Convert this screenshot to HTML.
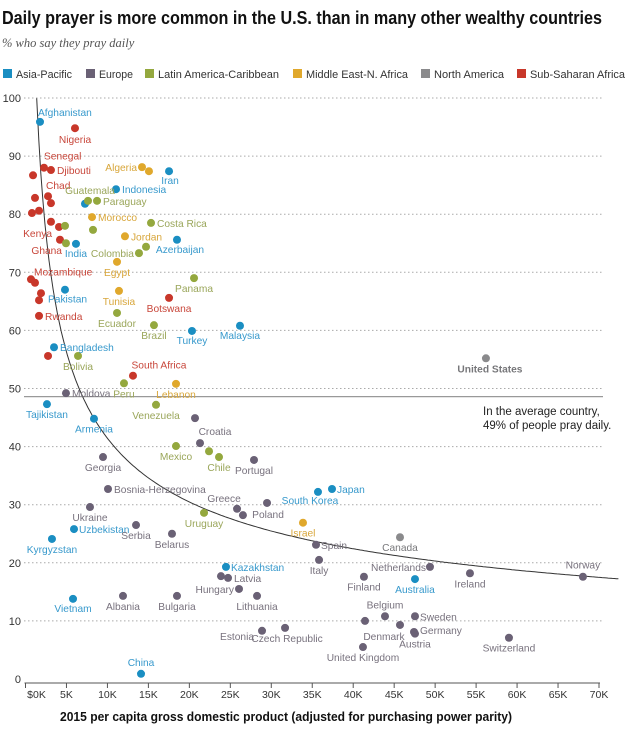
<!DOCTYPE html>
<html><head><meta charset="utf-8"><style>
html,body{margin:0;padding:0;background:#fff;}
svg{display:block;font-family:"Liberation Sans",sans-serif;}
</style></head><body>
<svg id="chart" width="640" height="731" viewBox="0 0 640 731" xmlns="http://www.w3.org/2000/svg">
<text x="2" y="24" font-size="18.5" font-weight="bold" fill="#111" textLength="600" lengthAdjust="spacingAndGlyphs">Daily prayer is more common in the U.S. than in many other wealthy countries</text>
<text x="2" y="47" font-size="12.5" font-style="italic" font-family="Liberation Serif, serif" fill="#555">% who say they pray daily</text>
<g id="legend"></g>
<g id="grid"></g>
<g id="plot"></g>
<text x="483" y="415" font-size="11.5" fill="#222">In the average country,</text>
<text x="483" y="429" font-size="11.5" fill="#222">49% of people pray daily.</text>
<text x="286" y="721" font-size="13" font-weight="bold" fill="#111" text-anchor="middle" textLength="452" lengthAdjust="spacingAndGlyphs">2015 per capita gross domestic product (adjusted for purchasing power parity)</text>
</svg>
<script>
const regions = ["A","E","L","M","N","S"];
const regionNames = ["Asia-Pacific","Europe","Latin America-Caribbean","Middle East-N. Africa","North America","Sub-Saharan Africa"];
const yTicks = [0,10,20,30,40,50,60,70,80,90,100];
const xTicks = [0,5,10,15,20,25,30,35,40,45,50,55,60,65,70];
const xTickLabels = ["$0K","5K","10K","15K","20K","25K","30K","35K","40K","45K","50K","55K","60K","65K","70K"];
const averageValue = 48.6;
const countryNames = ["Afghanistan","Iran","Indonesia","","India","Azerbaijan","Pakistan","Malaysia","Turkey","Bangladesh","Tajikistan","Armenia","South Korea","Japan","Uzbekistan","Kyrgyzstan","Kazakhstan","Australia","Vietnam","China",
"Nigeria","Senegal","Djibouti","","","Chad","","","","","Kenya","Ghana","Mozambique","","","","Rwanda","","South Africa","Botswana",
"Guatemala","Paraguay","","","","Costa Rica","Colombia","","Panama","Ecuador","Brazil","Bolivia","Peru","Venezuela","Mexico","","Chile","Uruguay",
"Algeria","","Morocco","Jordan","Egypt","Tunisia","Lebanon","Israel",
"Moldova","Georgia","","Croatia","Portugal","Bosnia-Herzegovina","Greece","","Poland","Ukraine","Serbia","Belarus","","Latvia","Hungary","Albania","Bulgaria","Lithuania","Estonia","Czech Republic","Spain","Italy","Finland","Netherlands","Ireland","Norway","Belgium","","Denmark","Sweden","Germany","Austria","United Kingdom","Switzerland",
"United States","Canada"];
const countryRegions = ["A","A","A","A","A","A","A","A","A","A","A","A","A","A","A","A","A","A","A","A",
"S","S","S","S","S","S","S","S","S","S","S","S","S","S","S","S","S","S","S","S",
"L","L","L","L","L","L","L","L","L","L","L","L","L","L","L","L","L","L",
"M","M","M","M","M","M","M","M",
"E","E","E","E","E","E","E","E","E","E","E","E","E","E","E","E","E","E","E","E","E","E","E","E","E","E","E","E","E","E","E","E","E","E",
"N","N"];
const gdpK = [1.77,17.52,11.05,7.26,6.16,18.49,4.82,26.18,20.32,3.48,2.62,8.36,35.7,37.41,5.92,3.23,24.47,47.54,5.8,14.1,
6.04,2.26,3.11,0.92,1.16,2.75,3.11,0.79,1.65,3.11,4.09,4.21,0.67,1.16,1.89,1.65,1.65,2.75,13.12,17.52,
7.63,8.73,4.82,4.94,8.24,15.32,13.85,14.71,20.57,11.17,15.68,6.41,12.02,15.93,18.37,22.4,23.62,21.79,
14.22,15.07,8.12,12.14,11.17,11.41,18.37,33.87,
4.94,9.46,20.69,21.3,27.89,10.07,25.82,26.54,29.48,7.87,13.49,17.88,23.86,24.72,26.06,11.9,18.49,28.26,28.87,31.68,35.46,35.83,41.31,49.37,54.25,68.04,43.88,41.44,45.71,47.54,47.42,47.54,41.19,59.01,
56.2,45.71];
const prayPct = [95.9,87.4,84.3,81.8,74.9,75.6,67.0,60.8,59.9,57.1,47.3,44.8,32.2,32.7,25.8,24.1,19.3,17.2,13.8,0.9,
94.8,88.0,87.6,86.7,82.8,83.1,81.9,80.2,80.6,78.7,77.8,75.6,68.8,68.2,66.4,65.2,62.5,55.6,52.2,65.6,
82.3,82.3,78.0,75.0,77.3,78.5,73.3,74.4,69.0,63.0,60.9,55.6,50.9,47.2,40.1,39.2,38.2,28.6,
88.1,87.4,79.5,76.2,71.8,66.8,50.8,26.9,
49.2,38.2,44.9,40.6,37.7,32.7,29.3,28.2,30.3,29.6,26.5,25.0,17.7,17.4,15.5,14.3,14.3,14.3,8.3,8.8,23.1,20.5,17.6,19.3,18.2,17.6,10.8,10.0,9.3,10.8,8.1,7.8,5.5,7.1,
55.2,24.4];
// label placement [dx, dy, anchor]
const labelOffsets = {
"Afghanistan":[-2,-6,"start"],"Iran":[1,13,"middle"],"Indonesia":[6,4,"start"],"India":[0,13,"middle"],"Azerbaijan":[3,13,"middle"],
"Pakistan":[-17,13,"start"],"Malaysia":[0,13,"middle"],"Turkey":[0,13,"middle"],"Bangladesh":[6,4,"start"],"Tajikistan":[0,14,"middle"],
"Armenia":[0,14,"middle"],"South Korea":[-8,12,"middle"],"Japan":[5,4,"start"],"Uzbekistan":[5,4,"start"],"Kyrgyzstan":[0,14,"middle"],
"Kazakhstan":[5,4,"start"],"Australia":[0,14,"middle"],"Vietnam":[0,13,"middle"],"China":[0,-8,"middle"],
"Nigeria":[0,15,"middle"],"Senegal":[0,-8,"start"],"Djibouti":[6,4,"start"],"Chad":[-2,-7,"start"],"Kenya":[-7,10,"end"],
"Ghana":[2,14,"end"],"Mozambique":[3,-4,"start"],"Rwanda":[6,4,"start"],"South Africa":[26,-7,"middle"],"Botswana":[0,14,"middle"],
"Guatemala":[2,-7,"middle"],"Paraguay":[6,4,"start"],"Costa Rica":[6,4,"start"],"Colombia":[-5,4,"end"],"Panama":[0,14,"middle"],
"Ecuador":[0,14,"middle"],"Brazil":[0,14,"middle"],"Bolivia":[0,14,"middle"],"Peru":[0,14,"middle"],"Venezuela":[0,14,"middle"],
"Mexico":[0,14,"middle"],"Chile":[0,14,"middle"],"Uruguay":[0,14,"middle"],
"Algeria":[-5,4,"end"],"Morocco":[6,4,"start"],"Jordan":[6,4,"start"],"Egypt":[0,14,"middle"],"Tunisia":[0,14,"middle"],"Lebanon":[0,14,"middle"],"Israel":[0,14,"middle"],
"Moldova":[6,4,"start"],"Georgia":[0,14,"middle"],"Croatia":[15,-8,"middle"],"Portugal":[0,14,"middle"],"Bosnia-Herzegovina":[6,4,"start"],
"Greece":[-13,-7,"middle"],"Poland":[1,15,"middle"],"Ukraine":[0,14,"middle"],"Serbia":[0,14,"middle"],"Belarus":[0,14,"middle"],
"Latvia":[6,4,"start"],"Hungary":[-5,4,"end"],"Albania":[0,14,"middle"],"Bulgaria":[0,14,"middle"],"Lithuania":[0,14,"middle"],
"Estonia":[-25,9,"middle"],"Czech Republic":[2,14,"middle"],"Spain":[5,4,"start"],"Italy":[0,14,"middle"],"Finland":[0,14,"middle"],
"Netherlands":[-4,4,"end"],"Ireland":[0,14,"middle"],"Norway":[0,-8,"middle"],"Belgium":[0,-8,"middle"],"Denmark":[-16,15,"middle"],
"Sweden":[5,4,"start"],"Germany":[6,2,"start"],"Austria":[0,14,"middle"],"United Kingdom":[0,14,"middle"],"Switzerland":[0,14,"middle"],
"United States":[4,14,"middle"],"Canada":[0,14,"middle"]};
const dotColor = {A:"#1a8ec2",E:"#6a6175",L:"#94a83e",M:"#e0a82c",N:"#8a8a8c",S:"#c8372a"};
const labelColor = {A:"#3799cc",E:"#77717d",L:"#9aa65a",M:"#d8a63a",N:"#77777a",S:"#c8463a"};

const NS = "http://www.w3.org/2000/svg";
const X = k => 25.5 + k * (573.5 / 70);
const Y = v => 679 - v * 5.81;
function mk(tag, attrs, parent, txt){const e=document.createElementNS(NS,tag);for(const a in attrs)e.setAttribute(a,attrs[a]);if(txt!==undefined)e.textContent=txt;parent.appendChild(e);return e;}

const legend=document.getElementById('legend');
const legX=[3,86,145,293,421,517];
const legW=[56,34,121,102,70,95];
regions.forEach((r,i)=>{
  const g=mk('g',{},legend);
  
  
  mk('rect',{x:legX[i],y:69,width:9,height:9,fill:dotColor[r]},g);
  mk('text',{x:legX[i]+13,y:78,'font-size':11,fill:'#333',textLength:legW[i],lengthAdjust:'spacingAndGlyphs'},g,regionNames[i]);
});

const grid=document.getElementById('grid');
yTicks.forEach(v=>{
  if(v>0){const l=mk('line',{x1:24,x2:603,y1:Y(v),y2:Y(v),stroke:'#aaa','stroke-width':1,'stroke-dasharray':'1.5,2.5'},grid);
  
  }
  const t=mk('text',{x:21,y:Y(v)+4,'font-size':11,fill:'#333','text-anchor':'end'},grid,String(v));
  
  
});
const axis=mk('line',{x1:X(0)-1,x2:X(70)+1,y1:683,y2:683,stroke:'#555','stroke-width':1},grid);


xTicks.forEach((k,i)=>{
  mk('line',{x1:X(k),x2:X(k),y1:683,y2:688,stroke:'#555'},grid);
  const t=mk('text',{x:X(k)+(i===0?11:0),y:698,'font-size':10.5,fill:'#333','text-anchor':'middle'},grid,xTickLabels[i]);
  
  
});
const avg=mk('line',{x1:24,x2:603,y1:Y(averageValue),y2:Y(averageValue),stroke:'#999','stroke-width':1.2},grid);



let d='';
for(let k=1.37;k<=72.5;k+=0.25){const v=114.9*Math.pow(k,-0.443);d+=(d?'L':'M')+X(k).toFixed(1)+','+Y(v).toFixed(1);}
const curve=mk('path',{d:d,fill:'none',stroke:'#333','stroke-width':1},grid);



const plot=document.getElementById('plot');
countryNames.forEach((n,i)=>{
  const r=countryRegions[i],cx=X(gdpK[i]),cy=Y(prayPct[i]);
  const c=mk('circle',{cx:cx,cy:cy,r:4,fill:dotColor[r]},plot);
  
  
});
countryNames.forEach((n,i)=>{
  if(!n)return;
  const r=countryRegions[i],cx=X(gdpK[i]),cy=Y(prayPct[i]);
  const o=labelOffsets[n]||[0,14,'middle'];
  const t=mk('text',{x:cx+o[0],y:cy+o[1],'text-anchor':o[2],'font-size':10.2,fill:labelColor[r],'font-weight':n==='United States'?'bold':'normal'},plot,n);
  
  
});
</script>
</body></html>
